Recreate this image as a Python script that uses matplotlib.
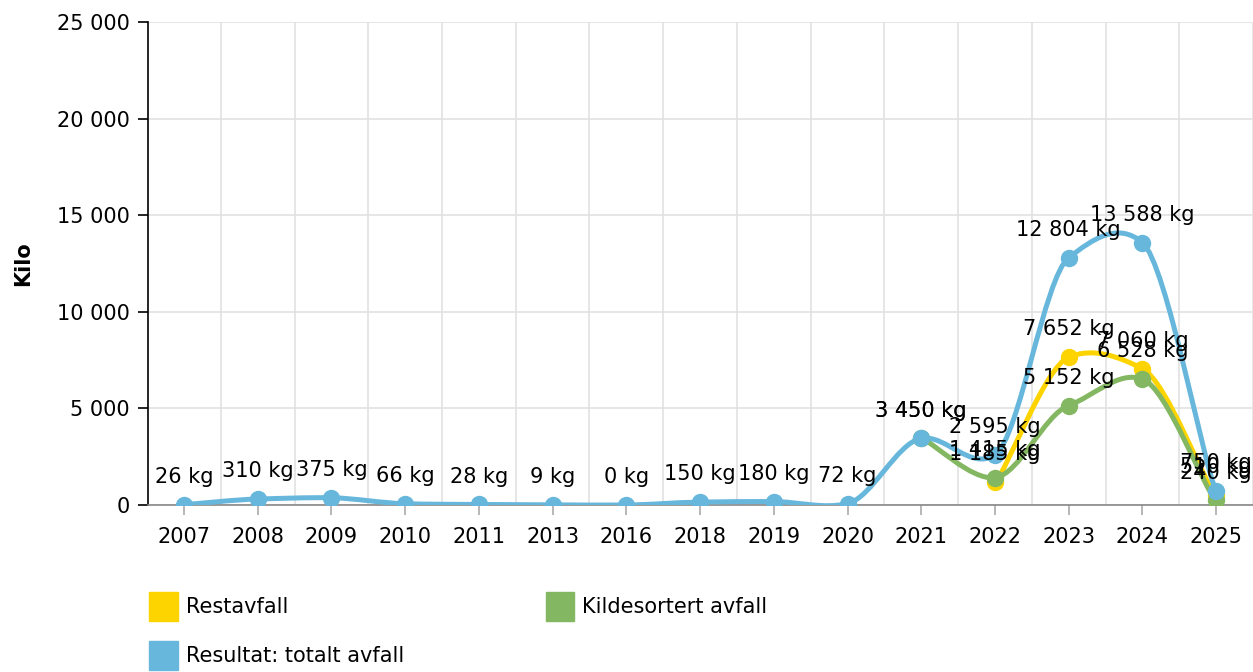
import matplotlib
matplotlib.use('Agg')
import matplotlib.pyplot as plt
from matplotlib.path import Path
from matplotlib.patches import PathPatch, Patch
from matplotlib.ticker import FuncFormatter, FixedLocator


# Données
years = ['2007', '2008', '2009', '2010', '2011', '2013', '2016', '2018',
         '2019', '2020', '2021', '2022', '2023', '2024', '2025']
restavfall = [None, None, None, None, None, None, None, None,
              None, None, None, 1185, 7652, 7060, 510]
kildesortert = [None, None, None, None, None, None, None, None,
                None, None, 3450, 1415, 5152, 6528, 240]
totalt = [26, 310, 375, 66, 28, 9, 0, 150, 180, 72, 3450, 2595, 12804, 13588, 750]

yellow = '#fdd400'
green = '#84b761'
blue = '#67b7dc'

TENSION = 0.09  # lissage de la courbe


def fmt(v):
    return '{:,}'.format(int(v)).replace(',', ' ')


def spline_path(xs, ys):
    """Courbe lissée passant par les points (bezier cubique)."""
    n = len(xs)
    verts = [(xs[0], ys[0])]
    codes = [Path.MOVETO]
    for i in range(n - 1):
        x0, y0 = (xs[i - 1], ys[i - 1]) if i > 0 else (xs[i], ys[i])
        x1, y1 = xs[i], ys[i]
        x2, y2 = xs[i + 1], ys[i + 1]
        x3, y3 = (xs[i + 2], ys[i + 2]) if i + 2 < n else (x2, y2)
        c1 = (x1 + (x2 - x0) / 6, y1 + (y2 - y0) * TENSION)
        c2 = (x2 - (x3 - x1) / 6, y2 - (y3 - y1) * TENSION)
        verts += [c1, c2, (x2, y2)]
        codes += [Path.CURVE4] * 3
    return Path(verts, codes)


fig = plt.figure(figsize=(12.53, 6.72), dpi=100)
ax = fig.add_axes([0.118, 0.2485, 0.882, 0.7185])

series = [(restavfall, yellow), (kildesortert, green), (totalt, blue)]

# Lignes
for k, (vals, col) in enumerate(series):
    xs = [i for i, v in enumerate(vals) if v is not None]
    ys = [v for v in vals if v is not None]
    ax.add_patch(PathPatch(spline_path(xs, ys), fill=False, edgecolor=col,
                           lw=3.6, capstyle='round', joinstyle='round', zorder=3 + k))

# Points et étiquettes
for k, (vals, col) in enumerate(series):
    xs = [i for i, v in enumerate(vals) if v is not None]
    ys = [v for v in vals if v is not None]
    ax.plot(xs, ys, 'o', color=col, ms=11.5, zorder=7 + k)
    for x, y in zip(xs, ys):
        ax.annotate(fmt(y) + ' kg', (x, y), xytext=(0, 20), textcoords='offset points',
                    ha='center', va='center', fontsize=15, color='black', zorder=12)

ax.set_xlim(-0.49, 14.5)
ax.set_ylim(0, 25000)
ax.set_xticks(range(len(years)))
ax.set_xticklabels(years)
ax.xaxis.set_minor_locator(FixedLocator([i + 0.5 for i in range(-1, len(years))]))
ax.set_yticks(range(0, 25001, 5000))
ax.yaxis.set_major_formatter(FuncFormatter(lambda v, p: fmt(v)))

ax.grid(True, which='major', axis='y', color='#e2e2e2', lw=1.2)
ax.grid(True, which='minor', axis='x', color='#e2e2e2', lw=1.2)
ax.set_axisbelow(True)

for s in ['top', 'right']:
    ax.spines[s].set_visible(False)
ax.spines['left'].set_color('black')
ax.spines['left'].set_linewidth(1.2)
ax.spines['bottom'].set_color('#888888')
ax.spines['bottom'].set_linewidth(1.2)

ax.tick_params(axis='y', length=7, width=1.2, color='black', labelsize=15, pad=6)
ax.tick_params(axis='x', which='major', length=7, width=1.2, color='#aaaaaa',
               labelsize=15, pad=9)
ax.tick_params(axis='x', which='minor', length=0)

ax.set_ylabel('Kilo', fontsize=15, fontweight='bold', labelpad=17)

handles = [Patch(color=yellow, label='Restavfall'),
           Patch(color=blue, label='Resultat: totalt avfall'),
           Patch(color=green, label='Kildesortert avfall')]
fig.legend(handles=handles, ncol=2, loc='upper left', bbox_to_anchor=(139 / 1253, 1 - 582 / 672),
           frameon=False, fontsize=15, borderpad=0, handlelength=1.35, handleheight=1.7,
           handletextpad=0.4, columnspacing=6.8, labelspacing=1.0)

plt.savefig('out.png', dpi=100)
